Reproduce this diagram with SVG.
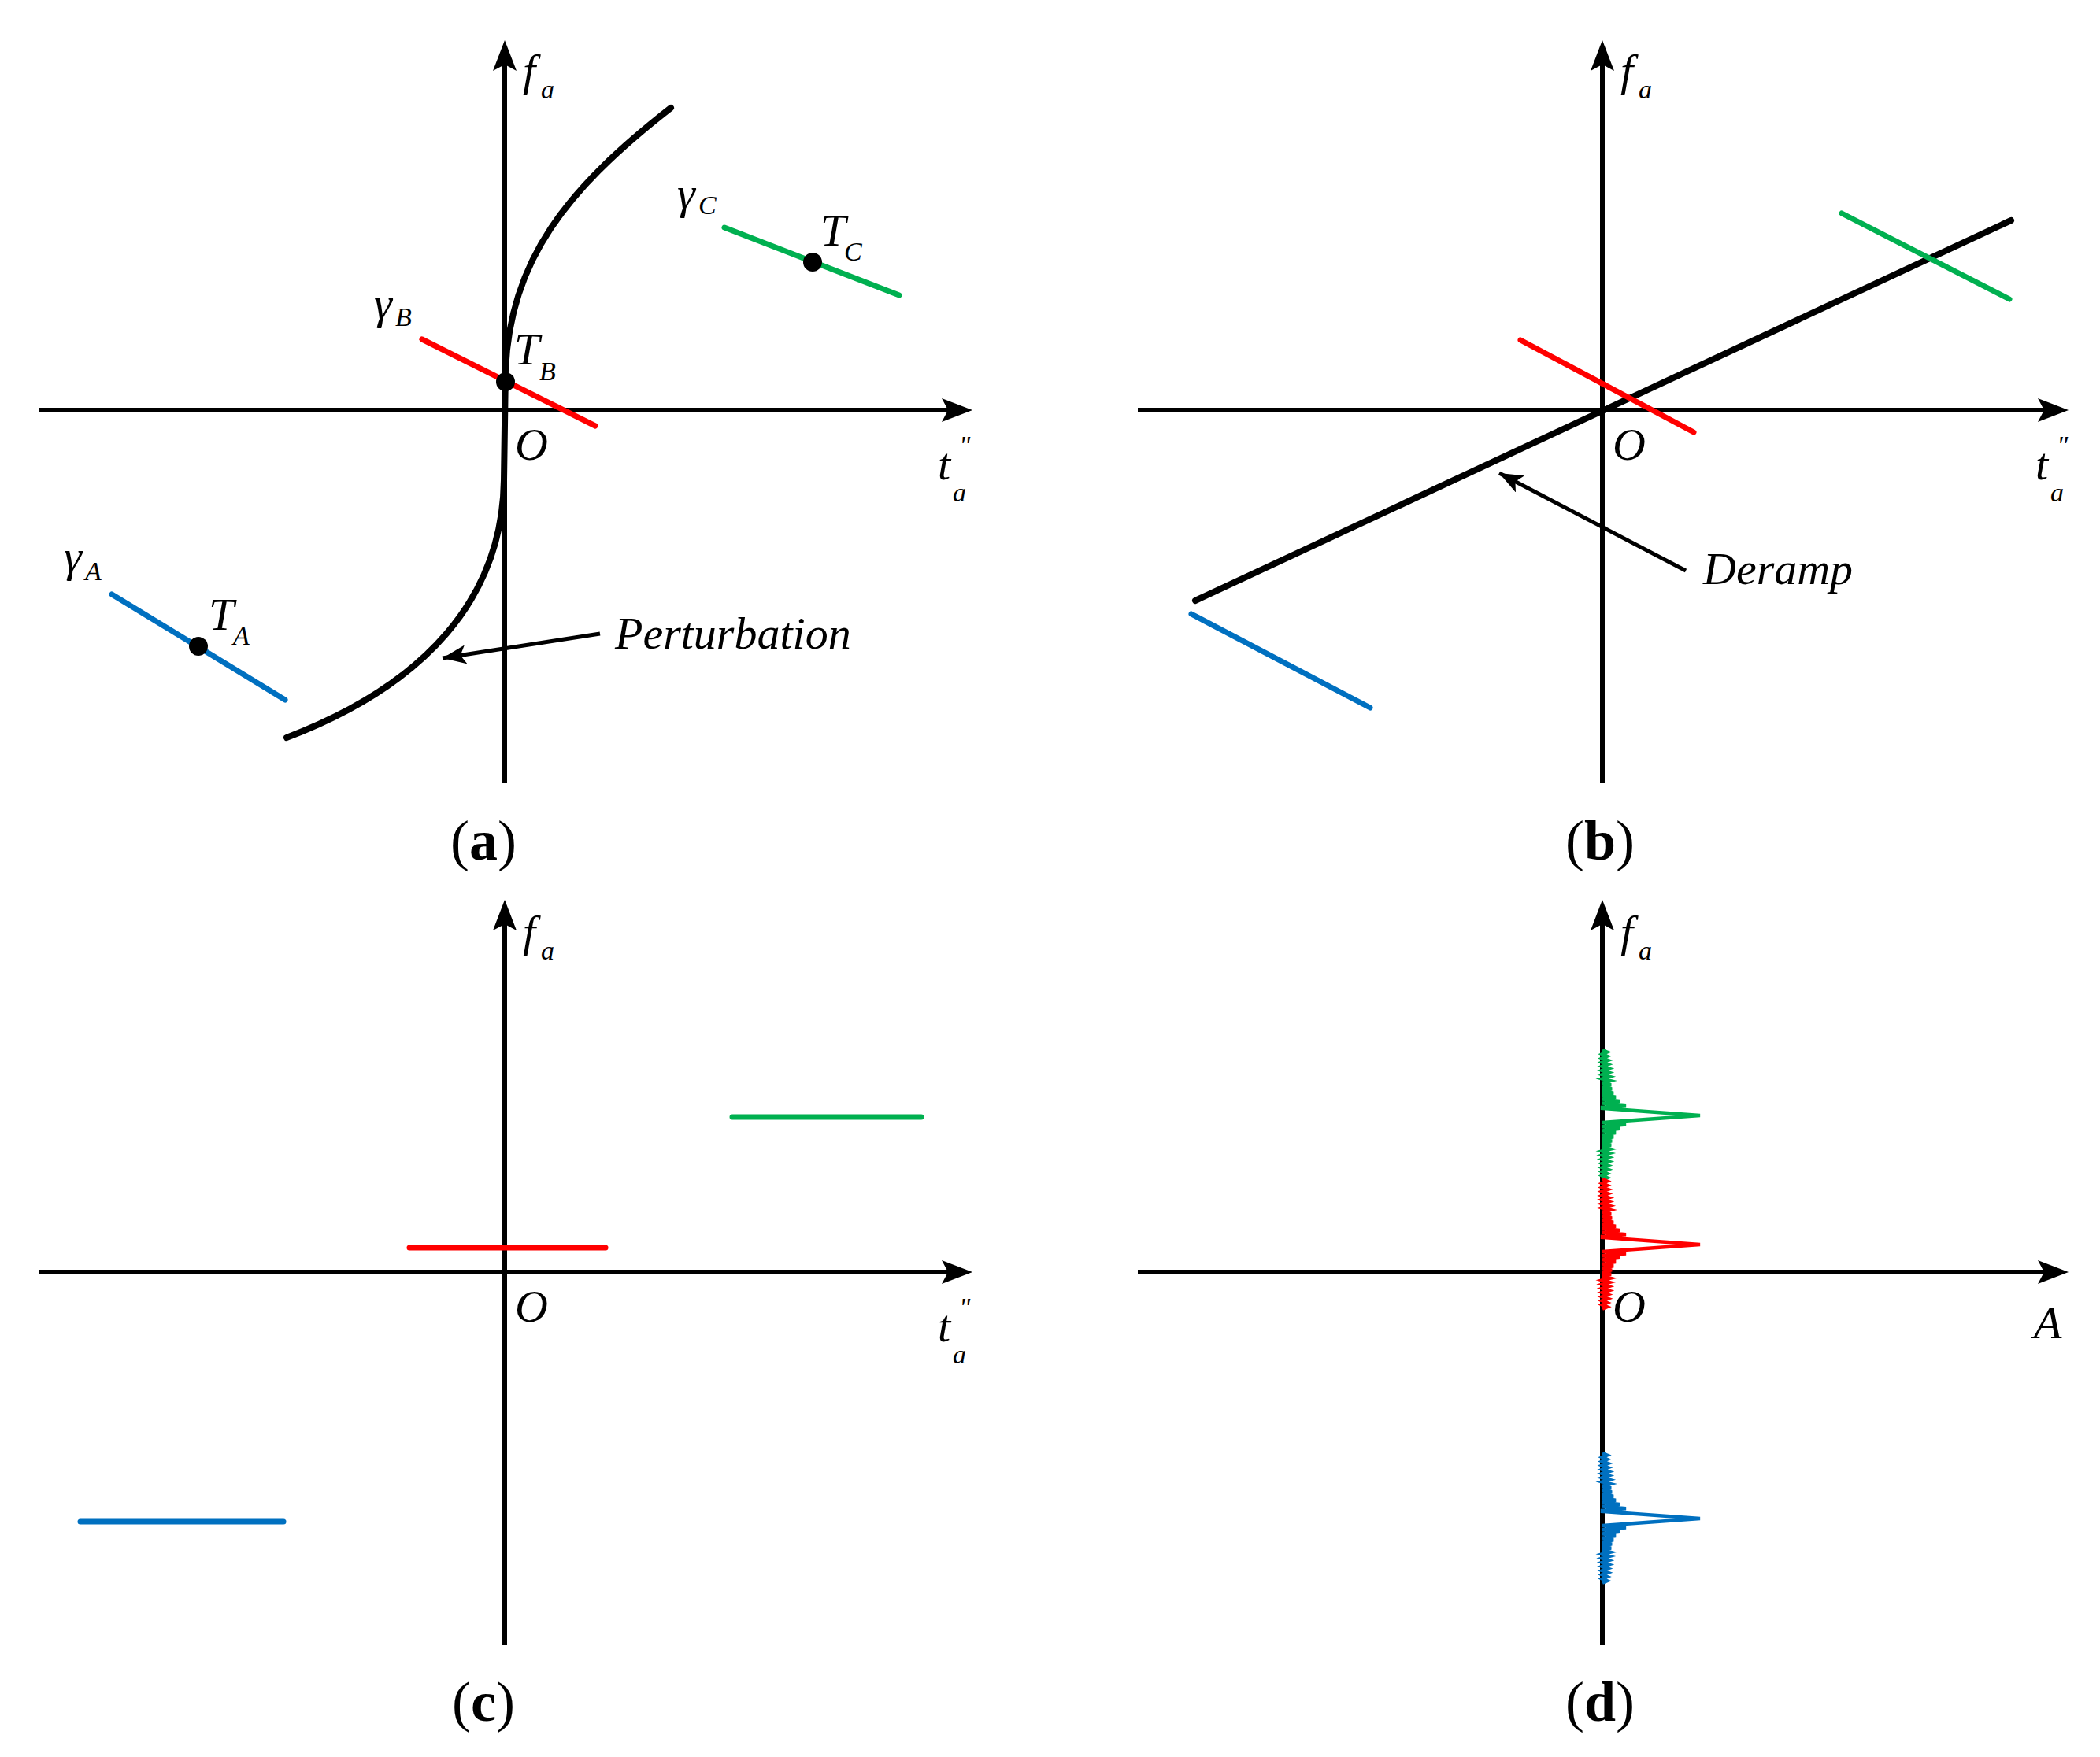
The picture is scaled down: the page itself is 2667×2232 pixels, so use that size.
<svg xmlns="http://www.w3.org/2000/svg" xmlns:xlink="http://www.w3.org/1999/xlink" width="2667" height="2232" viewBox="0 0 2667 2232">
<style>
.ax{stroke:#000;stroke-width:6;fill:none}
.cv{stroke:#000;stroke-width:8;fill:none;stroke-linecap:round}
.r{stroke:#ff0000;stroke-width:7;fill:none;stroke-linecap:round}
.g{stroke:#00b050;stroke-width:7;fill:none;stroke-linecap:round}
.b{stroke:#0070c0;stroke-width:7;fill:none;stroke-linecap:round}
.t{font-family:"Liberation Serif",serif;font-style:italic;font-size:58px;fill:#000}
.s{font-family:"Liberation Serif",serif;font-style:italic;font-size:34px;fill:#000}
.cap{font-family:"Liberation Serif",serif;font-size:72px;fill:#000}
.pk{fill:none;stroke-width:4.5;stroke-linejoin:miter}
</style>
<defs>
<marker id="ah" markerUnits="userSpaceOnUse" markerWidth="40" markerHeight="30" refX="30" refY="12" orient="auto">
<path d="M0,0 L30,12 L0,24 L7,12 Z" fill="#000"/>
</marker>
<path id="peak" d="M0,-83 l6,2.6 l-6,2.6 l6,2.6 l-6,2.6 l7,2.6 l-7,2.6 l7,2.6 l-7,2.6 l8,2.6 l-8,2.6 l8,2.6 l-8,2.6 l9,2.6 l-9,2.6 l10,2.6 l-10,2.6 l11,2.6 l-11,2.6 l12,2.6 l-12,2.6 l14,2.6 l-14,2.6 l17,2.6 l-17,2.6 l22,2.6 l-22,2.6 l30,2.6 l-30,2.6 L0,-9 L124,0 L0,9 l30,2.6 l-30,2.6 l22,2.6 l-22,2.6 l17,2.6 l-17,2.6 l14,2.6 l-14,2.6 l12,2.6 l-12,2.6 l11,2.6 l-11,2.6 l10,2.6 l-10,2.6 l9,2.6 l-9,2.6 l8,2.6 l-8,2.6 l8,2.6 l-8,2.6 l7,2.6 l-7,2.6 l7,2.6 l-7,2.6 l6,2.6 l-6,2.6 l6,2.6 l-6,2.6"/>
</defs>

<g id="panel-a">
<line class="ax" x1="641" y1="70" x2="641" y2="995"/>
<polygon points="641,51 626,90 641,82 656,90"/>
<line class="ax" x1="50" y1="521" x2="1220" y2="521"/>
<polygon points="1235,521 1196,506 1204,521 1196,536"/>
<path class="cv" d="M852,137 C720,240 648,330 642,470 L640,610 C638,760 540,870 364,937"/>
<line class="r" x1="536" y1="431" x2="756" y2="541"/>
<line class="g" x1="920" y1="289" x2="1142" y2="375"/>
<line class="b" x1="142" y1="755" x2="362" y2="889"/>
<circle cx="642" cy="485" r="12"/>
<circle cx="1032" cy="333" r="12"/>
<circle cx="252" cy="821" r="12"/>
<line x1="762" y1="805" x2="562" y2="836" stroke="#000" stroke-width="5" marker-end="url(#ah)"/>
<text class="t" x="781" y="824">Perturbation</text>
<text class="t" x="664" y="109">f</text><text class="s" x="687" y="125">a</text>
<text class="t" x="860" y="265">γ</text><text class="s" x="887" y="272">C</text>
<text class="t" x="1042" y="312">T</text><text class="s" x="1072" y="331">C</text>
<text class="t" x="475" y="405">γ</text><text class="s" x="502" y="414">B</text>
<text class="t" x="653" y="463">T</text><text class="s" x="685" y="483">B</text>
<text class="t" x="81" y="726">γ</text><text class="s" x="108" y="737">A</text>
<text class="t" x="265" y="800">T</text><text class="s" x="296" y="819">A</text>
<text class="t" x="654" y="584">O</text>
<text class="t" x="1191" y="609">t</text><text class="s" x="1210" y="637">a</text><text class="s" x="1218" y="577">"</text>
<text class="cap" x="614" y="1092" text-anchor="middle">(<tspan font-weight="bold">a</tspan>)</text>
</g>

<g id="panel-b">
<line class="ax" x1="2035" y1="70" x2="2035" y2="995"/>
<polygon points="2035,51 2020,90 2035,82 2050,90"/>
<line class="ax" x1="1445" y1="521" x2="2612" y2="521"/>
<polygon points="2627,521 2588,506 2596,521 2588,536"/>
<line class="cv" x1="1518" y1="763" x2="2554" y2="280"/>
<line class="r" x1="1931" y1="432" x2="2151" y2="549"/>
<line class="g" x1="2339" y1="271" x2="2552" y2="380"/>
<line class="b" x1="1513" y1="780" x2="1740" y2="899"/>
<line x1="2141" y1="725" x2="1904" y2="601" stroke="#000" stroke-width="5" marker-end="url(#ah)"/>
<text class="t" x="2163" y="742">Deramp</text>
<text class="t" x="2058" y="109">f</text><text class="s" x="2081" y="125">a</text>
<text class="t" x="2048" y="584">O</text>
<text class="t" x="2585" y="609">t</text><text class="s" x="2604" y="637">a</text><text class="s" x="2612" y="577">"</text>
<text class="cap" x="2032" y="1092" text-anchor="middle">(<tspan font-weight="bold">b</tspan>)</text>
</g>

<g id="panel-c">
<line class="ax" x1="641" y1="1162" x2="641" y2="2090"/>
<polygon points="641,1143 626,1182 641,1174 656,1182"/>
<line class="ax" x1="50" y1="1616" x2="1220" y2="1616"/>
<polygon points="1235,1616 1196,1601 1204,1616 1196,1631"/>
<line class="r" x1="520" y1="1585" x2="769" y2="1585"/>
<line class="g" x1="930" y1="1419" x2="1170" y2="1419"/>
<line class="b" x1="102" y1="1933" x2="360" y2="1933"/>
<text class="t" x="664" y="1203">f</text><text class="s" x="687" y="1219">a</text>
<text class="t" x="654" y="1679">O</text>
<text class="t" x="1191" y="1704">t</text><text class="s" x="1210" y="1732">a</text><text class="s" x="1218" y="1672">"</text>
<text class="cap" x="614" y="2186" text-anchor="middle">(<tspan font-weight="bold">c</tspan>)</text>
</g>

<g id="panel-d">
<line class="ax" x1="2035" y1="1162" x2="2035" y2="2090"/>
<polygon points="2035,1143 2020,1182 2035,1174 2050,1182"/>
<line class="ax" x1="1445" y1="1616" x2="2612" y2="1616"/>
<polygon points="2627,1616 2588,1601 2596,1616 2588,1631"/>
<use xlink:href="#peak" class="pk" stroke="#00b050" transform="translate(2035,1417)"/>
<use xlink:href="#peak" class="pk" stroke="#ff0000" transform="translate(2035,1581)"/>
<use xlink:href="#peak" class="pk" stroke="#0070c0" transform="translate(2035,1929)"/>
<text class="t" x="2058" y="1203">f</text><text class="s" x="2081" y="1219">a</text>
<text class="t" x="2048" y="1679">O</text>
<text class="t" x="2583" y="1700">A</text>
<text class="cap" x="2032" y="2186" text-anchor="middle">(<tspan font-weight="bold">d</tspan>)</text>
</g>
</svg>
